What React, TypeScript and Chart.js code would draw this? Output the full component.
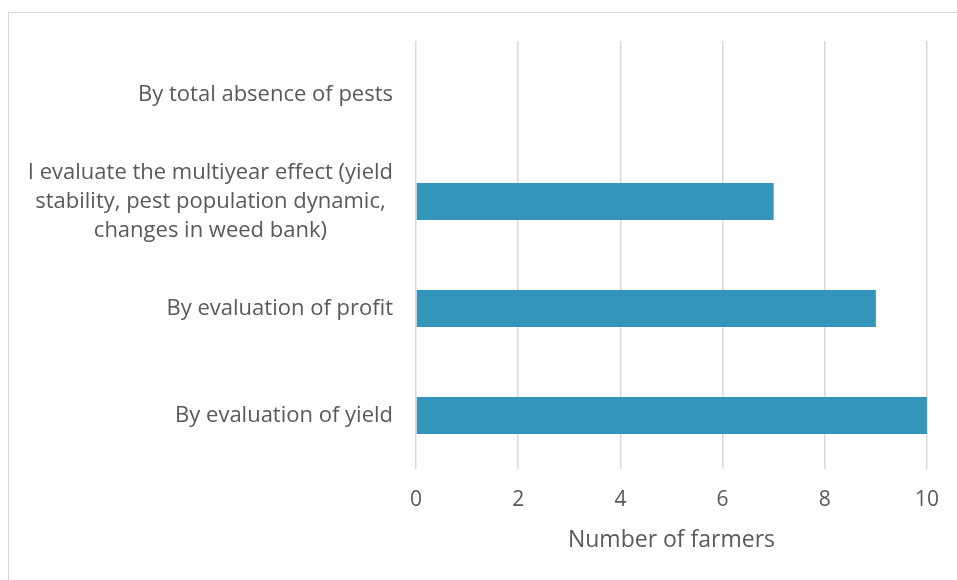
import React, { useEffect, useRef } from "react";
import { Chart, registerables } from "chart.js";

Chart.register(...registerables);

const categories: string[][] = [
  ["By total absence of pests"],
  ["I evaluate the multiyear effect (yield", "stability, pest population dynamic,", "changes in weed bank)"],
  ["By evaluation of profit"],
  ["By evaluation of yield"],
];
const farmers: number[] = [0, 7, 9, 10];
const xTicks: number[] = [0, 2, 4, 6, 8, 10];
const axisTitle = "Number of farmers";

const FONT = "'Open Sans'";
const TEXT = "#595959";

export default function App() {
  const ref = useRef<HTMLCanvasElement | null>(null);
  useEffect(() => {
    document.body.style.margin = "0";
    const canvas = ref.current!;
    const labelPlugin = {
      id: "ylabels",
      afterDraw(chart: any) {
        const ctx = chart.ctx;
        const y = chart.scales.y;
        ctx.save();
        ctx.font = `22px ${FONT}`;
        ctx.fillStyle = TEXT;
        ctx.textBaseline = "middle";
        ctx.textAlign = "center";
        const lh = 29;
        categories.forEach((lines, i) => {
          const cy = y.getPixelForTick(i);
          const w = Math.max(...lines.map((l) => ctx.measureText(l).width));
          const cx = chart.chartArea.left - 23 - w / 2;
          lines.forEach((l, j) => {
            ctx.fillText(l, cx, cy + (j - (lines.length - 1) / 2) * lh);
          });
        });
        ctx.restore();
      },
    };
    const borderPlugin = {
      id: "border",
      beforeDraw(chart: any) {
        const ctx = chart.ctx;
        ctx.save();
        ctx.fillStyle = "#ffffff";
        ctx.fillRect(0, 0, chart.width, chart.height);
        ctx.strokeStyle = "#d9d9d9";
        ctx.lineWidth = 1;
        ctx.strokeRect(8.5, 12.5, chart.width, chart.height);
        ctx.restore();
      },
    };
    const chart = new Chart(canvas, {
      type: "bar",
      data: {
        labels: categories.map((c) => c.join(" ")),
        datasets: [
          {
            data: farmers,
            backgroundColor: "#3494ba",
            categoryPercentage: 1,
            barPercentage: 0.346,
          },
        ],
      },
      options: {
        indexAxis: "y",
        animation: false,
        responsive: false,
        layout: { padding: { top: 41, right: 26, left: 8, bottom: 0 } },
        plugins: { legend: { display: false }, tooltip: { enabled: false } },
        scales: {
          x: {
            min: 0,
            max: 10,
            afterBuildTicks: (s: any) => {
              s.ticks = xTicks.map((v) => ({ value: v }));
            },
            afterFit: (s: any) => {
              s.height = 111;
            },
            grid: { color: "#d9d9d9", lineWidth: 1.5, drawTicks: false },
            border: { display: false },
            ticks: {
              padding: 18,
              color: TEXT,
              font: { family: FONT, size: 21 },
            },
            title: {
              display: true,
              text: axisTitle,
              color: TEXT,
              font: { family: FONT, size: 23 },
              padding: { top: 0, bottom: 26 },
            },
          },
          y: {
            afterFit: (s: any) => {
              s.width = 408;
            },
            grid: { display: false },
            border: { display: false },
            ticks: { display: false },
          },
        },
      },
      plugins: [borderPlugin, labelPlugin],
    });
    return () => chart.destroy();
  }, []);
  return <canvas ref={ref} width={957} height={580} style={{ display: "block" }} />;
}
